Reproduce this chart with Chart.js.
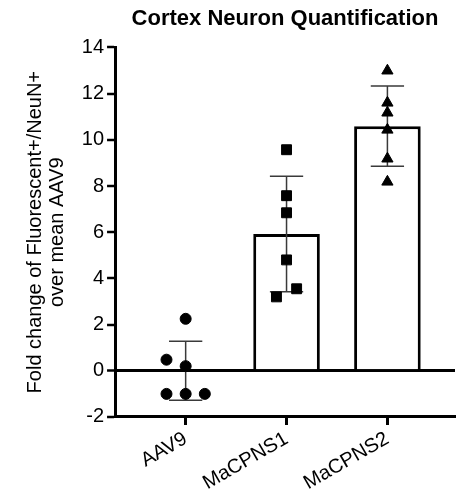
<!DOCTYPE html>
<html>
<head>
<meta charset="utf-8">
<script src="https://cdn.jsdelivr.net/npm/chart.js@4.4.0/dist/chart.umd.min.js"></script>
<style>
  html, body { margin: 0; padding: 0; background: #fff; }
  #wrap { width: 465px; height: 499px; }
</style>
</head>
<body>
<div id="wrap"><canvas id="chart" width="465" height="499"></canvas></div>
<script>
// groups and their summary values
const categories = ['AAV9', 'MaCPNS1', 'MaCPNS2'];
const means = [0, 5.92, 10.59];
const sds = [1.28, 2.5, 1.74];

// individual animals (x offset inside the group, value)
const aav9Offsets = [0, -0.19, 0, -0.19, 0, 0.19];
const aav9Values = [2.25, 0.48, 0.2, -1.0, -1.0, -1.0];
const cpns1Offsets = [0, 0, 0, 0, 0.1, -0.1];
const cpns1Values = [9.57, 7.58, 6.84, 4.8, 3.55, 3.2];
const cpns2Offsets = [0, 0, 0, 0, 0, 0];
const cpns2Values = [12.99, 11.6, 11.17, 10.43, 9.18, 8.18];

const yTicks = [-2, 0, 2, 4, 6, 8, 10, 12, 14];

const font = 'Arial, "Liberation Sans", sans-serif';

function toPoints(groupIdx, offsets, values) {
  return values.map((v, i) => ({ x: groupIdx + offsets[i], y: v }));
}

// error bars drawn right after the bars so points sit on top
const errorBars = {
  id: 'errorBars',
  afterDatasetDraw(chart, args) {
    if (args.index !== 0) return;
    const x = chart.scales.x, y = chart.scales.y;
    const ctx = chart.ctx;
    ctx.save();
    ctx.strokeStyle = '#3a3a3a';
    ctx.lineWidth = 1.5;
    means.forEach((m, i) => {
      const px = x.getPixelForValue(i);
      const top = y.getPixelForValue(m + sds[i]);
      const bot = y.getPixelForValue(m - sds[i]);
      const l = x.getPixelForValue(i - 0.165), r = x.getPixelForValue(i + 0.165);
      ctx.beginPath();
      ctx.moveTo(px, top); ctx.lineTo(px, bot);
      ctx.moveTo(l, top); ctx.lineTo(r, top);
      ctx.moveTo(l, bot); ctx.lineTo(r, bot);
      ctx.stroke();
    });
    ctx.restore();
  }
};

const ctx = document.getElementById('chart');

new Chart(ctx, {
  data: {
    datasets: [
      {
        type: 'bar',
        data: means.map((m, i) => ({ x: i, y: m })),
        backgroundColor: '#fff',
        borderColor: '#000',
        borderWidth: 3,
        borderSkipped: 'start',
        barPercentage: 0.66,
        categoryPercentage: 1,
        order: 2
      },
      {
        type: 'scatter',
        data: toPoints(0, aav9Offsets, aav9Values),
        pointStyle: 'circle',
        radius: 5.5,
        backgroundColor: '#000',
        borderColor: '#000',
        order: 1
      },
      {
        type: 'scatter',
        data: toPoints(1, cpns1Offsets, cpns1Values),
        pointStyle: 'rect',
        radius: 7,
        backgroundColor: '#000',
        borderColor: '#000',
        order: 1
      },
      {
        type: 'scatter',
        data: toPoints(2, cpns2Offsets, cpns2Values),
        pointStyle: 'triangle',
        radius: 6.5,
        backgroundColor: '#000',
        borderColor: '#000',
        order: 1
      }
    ]
  },
  options: {
    responsive: false,
    animation: false,
    layout: { padding: { left: 24, right: 10, top: 1, bottom: 2 } },
    plugins: {
      legend: { display: false },
      tooltip: { enabled: false },
      title: {
        display: true,
        fullSize: false,
        text: 'Cortex Neuron Quantification',
        color: '#000',
        font: { family: font, size: 22, weight: 'bold' },
        padding: { top: 5, bottom: 15 }
      }
    },
    scales: {
      x: {
        type: 'linear',
        offset: false,
        min: -0.7,
        max: 2.67,
        afterBuildTicks(scale) {
          scale.ticks = categories.map((c, i) => ({ value: i }));
        },
        ticks: {
          color: '#000',
          font: { family: font, size: 20 },
          maxRotation: 30,
          minRotation: 30,
          padding: 2,
          callback: (v) => categories[v]
        },
        grid: {
          offset: false,
          drawOnChartArea: false,
          drawTicks: true,
          tickLength: 8,
          tickWidth: 3,
          tickColor: '#000'
        },
        border: { display: true, color: '#000', width: 3 }
      },
      y: {
        min: -2,
        max: 14,
        z: 1,
        afterBuildTicks(scale) {
          scale.ticks = yTicks.map(v => ({ value: v }));
        },
        ticks: {
          color: '#000',
          font: { family: font, size: 20 },
          padding: 3
        },
        grid: {
          drawTicks: true,
          tickLength: 8,
          tickWidth: 2.5,
          tickColor: '#000',
          color: (c) => c.tick && c.tick.value === 0 ? '#000' : 'rgba(0,0,0,0)',
          lineWidth: (c) => c.tick && c.tick.value === 0 ? 3 : 0
        },
        border: { display: true, color: '#000', width: 3 },
        title: {
          display: true,
          text: ['Fold change of Fluorescent+/NeuN+', 'over mean AAV9'],
          color: '#000',
          font: { family: font, size: 20, lineHeight: 1.12 },
          padding: { top: 0, bottom: 10 }
        }
      }
    }
  },
  plugins: [errorBars]
});
</script>
</body>
</html>
